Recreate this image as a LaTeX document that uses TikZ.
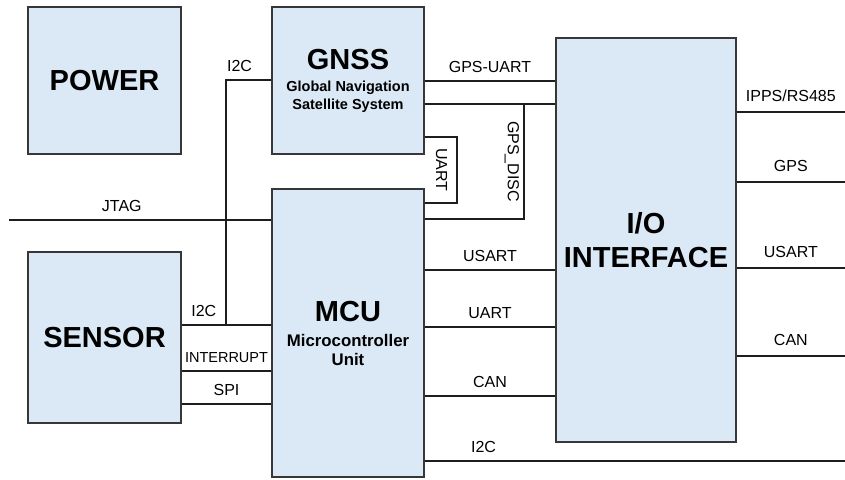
\documentclass[tikz,border=0pt]{standalone}
\usepackage{fontspec}
\setmainfont{Liberation Sans}
\usepackage{tikz}
\usetikzlibrary{positioning,calc}
\usepackage{xcolor}
\definecolor{blkfill}{RGB}{219,232,246}
\definecolor{blkline}{RGB}{55,55,55}
\definecolor{wireclr}{RGB}{30,30,30}
\newcommand\blocktitle{\fontsize{29}{34}\selectfont\bfseries}
\newcommand\gnsssub{\fontsize{14.5}{18}\selectfont\bfseries}
\newcommand\mcusub{\fontsize{16.8}{19}\selectfont\bfseries}
\newcommand\wirefont{\fontsize{16}{19}\selectfont}

\begin{document}
\begin{tikzpicture}[
      x=1pt, y=-1pt,
      blk/.style={draw=blkline, fill=blkfill, line width=1.4pt,
        inner sep=0pt, align=center},
      wire/.style={draw=wireclr, line width=1.8pt},
      lbl/.style={above=7.5pt, inner sep=0pt, font=\wirefont},
      lbr/.style={above=9.5pt, inner sep=0pt, font=\wirefont},
      vlbl/.style={rotate=-90, anchor=north, inner sep=0pt, font=\wirefont}
    ]
      \useasboundingbox (0,0) rectangle (845,479);
      \node[blk, minimum width=153, minimum height=147] (power) at (104.5,80.5)
        {\blocktitle POWER};
      \node[blk, font=\gnsssub, minimum width=152, minimum height=147] (gnss) at (348,80.5)
        {{\blocktitle GNSS}\\[4pt]Global Navigation\\Satellite System};
      \node[blk, font=\mcusub, minimum width=152, minimum height=288] (mcu) at (348,333)
        {{\blocktitle MCU}\\[6pt]Microcontroller\\Unit};
      \node[blk, minimum width=153, minimum height=171] (sensor) at (104.5,337.5)
        {\blocktitle SENSOR};
      \node[blk, font=\blocktitle, minimum width=180, minimum height=404] (io) at (646,240)
        {I/O\\INTERFACE};
      \coordinate (lft) at (9,0);
      \coordinate (rgt) at (845,0);
      \coordinate (i2cx) at (226,325);
      \coordinate (uartx) at (457,0);
      \coordinate (discx) at (524,104);
      \draw[wire] (gnss.west |- 0,80) -| (i2cx) node[lbl, pos=0.35] {I2C}
        -- (sensor.east |- i2cx) node[lbl, midway] {I2C};
      \draw[wire] (i2cx) -- (mcu.west |- i2cx);
      \draw[wire] (sensor.east |- 0,371) -- node[lbl, font=\fontsize{14.5}{17}\selectfont] {INTERRUPT} (mcu.west |- 0,371);
      \draw[wire] (sensor.east |- 0,404) -- node[lbl] {SPI} (mcu.west |- 0,404);
      \draw[wire] (lft |- 0,220) -- node[lbl, pos=0.43] {JTAG} (mcu.west |- 0,220);
      \draw[wire] (gnss.east |- 0,81) -- node[lbl] {GPS-UART} (io.west |- 0,81);
      \draw[wire] (gnss.east |- discx) -- (io.west |- discx);
      \draw[wire] (mcu.east |- 0,219) -| (discx) node[vlbl, pos=0.75, yshift=-4pt] {GPS\_DISC};
      \draw[wire] (gnss.east |- 0,137) -- (uartx |- 0,137)
        -- node[vlbl, yshift=-9pt] {UART} (uartx |- 0,203) -- (mcu.east |- 0,203);
      \draw[wire] (mcu.east |- 0,270) -- node[lbl] {USART} (io.west |- 0,270);
      \draw[wire] (mcu.east |- 0,327) -- node[lbl] {UART} (io.west |- 0,327);
      \draw[wire] (mcu.east |- 0,396) -- node[lbl] {CAN} (io.west |- 0,396);
      \draw[wire] (mcu.east |- 0,461) -- node[lbl, pos=0.14] {I2C} (rgt |- 0,461);
      \draw[wire] (io.east |- 0,112) -- node[lbr] {IPPS/RS485} (rgt |- 0,112);
      \draw[wire] (io.east |- 0,182) -- node[lbr] {GPS} (rgt |- 0,182);
      \draw[wire] (io.east |- 0,268) -- node[lbr] {USART} (rgt |- 0,268);
      \draw[wire] (io.east |- 0,356) -- node[lbr] {CAN} (rgt |- 0,356);
    \end{tikzpicture}
\end{document}
